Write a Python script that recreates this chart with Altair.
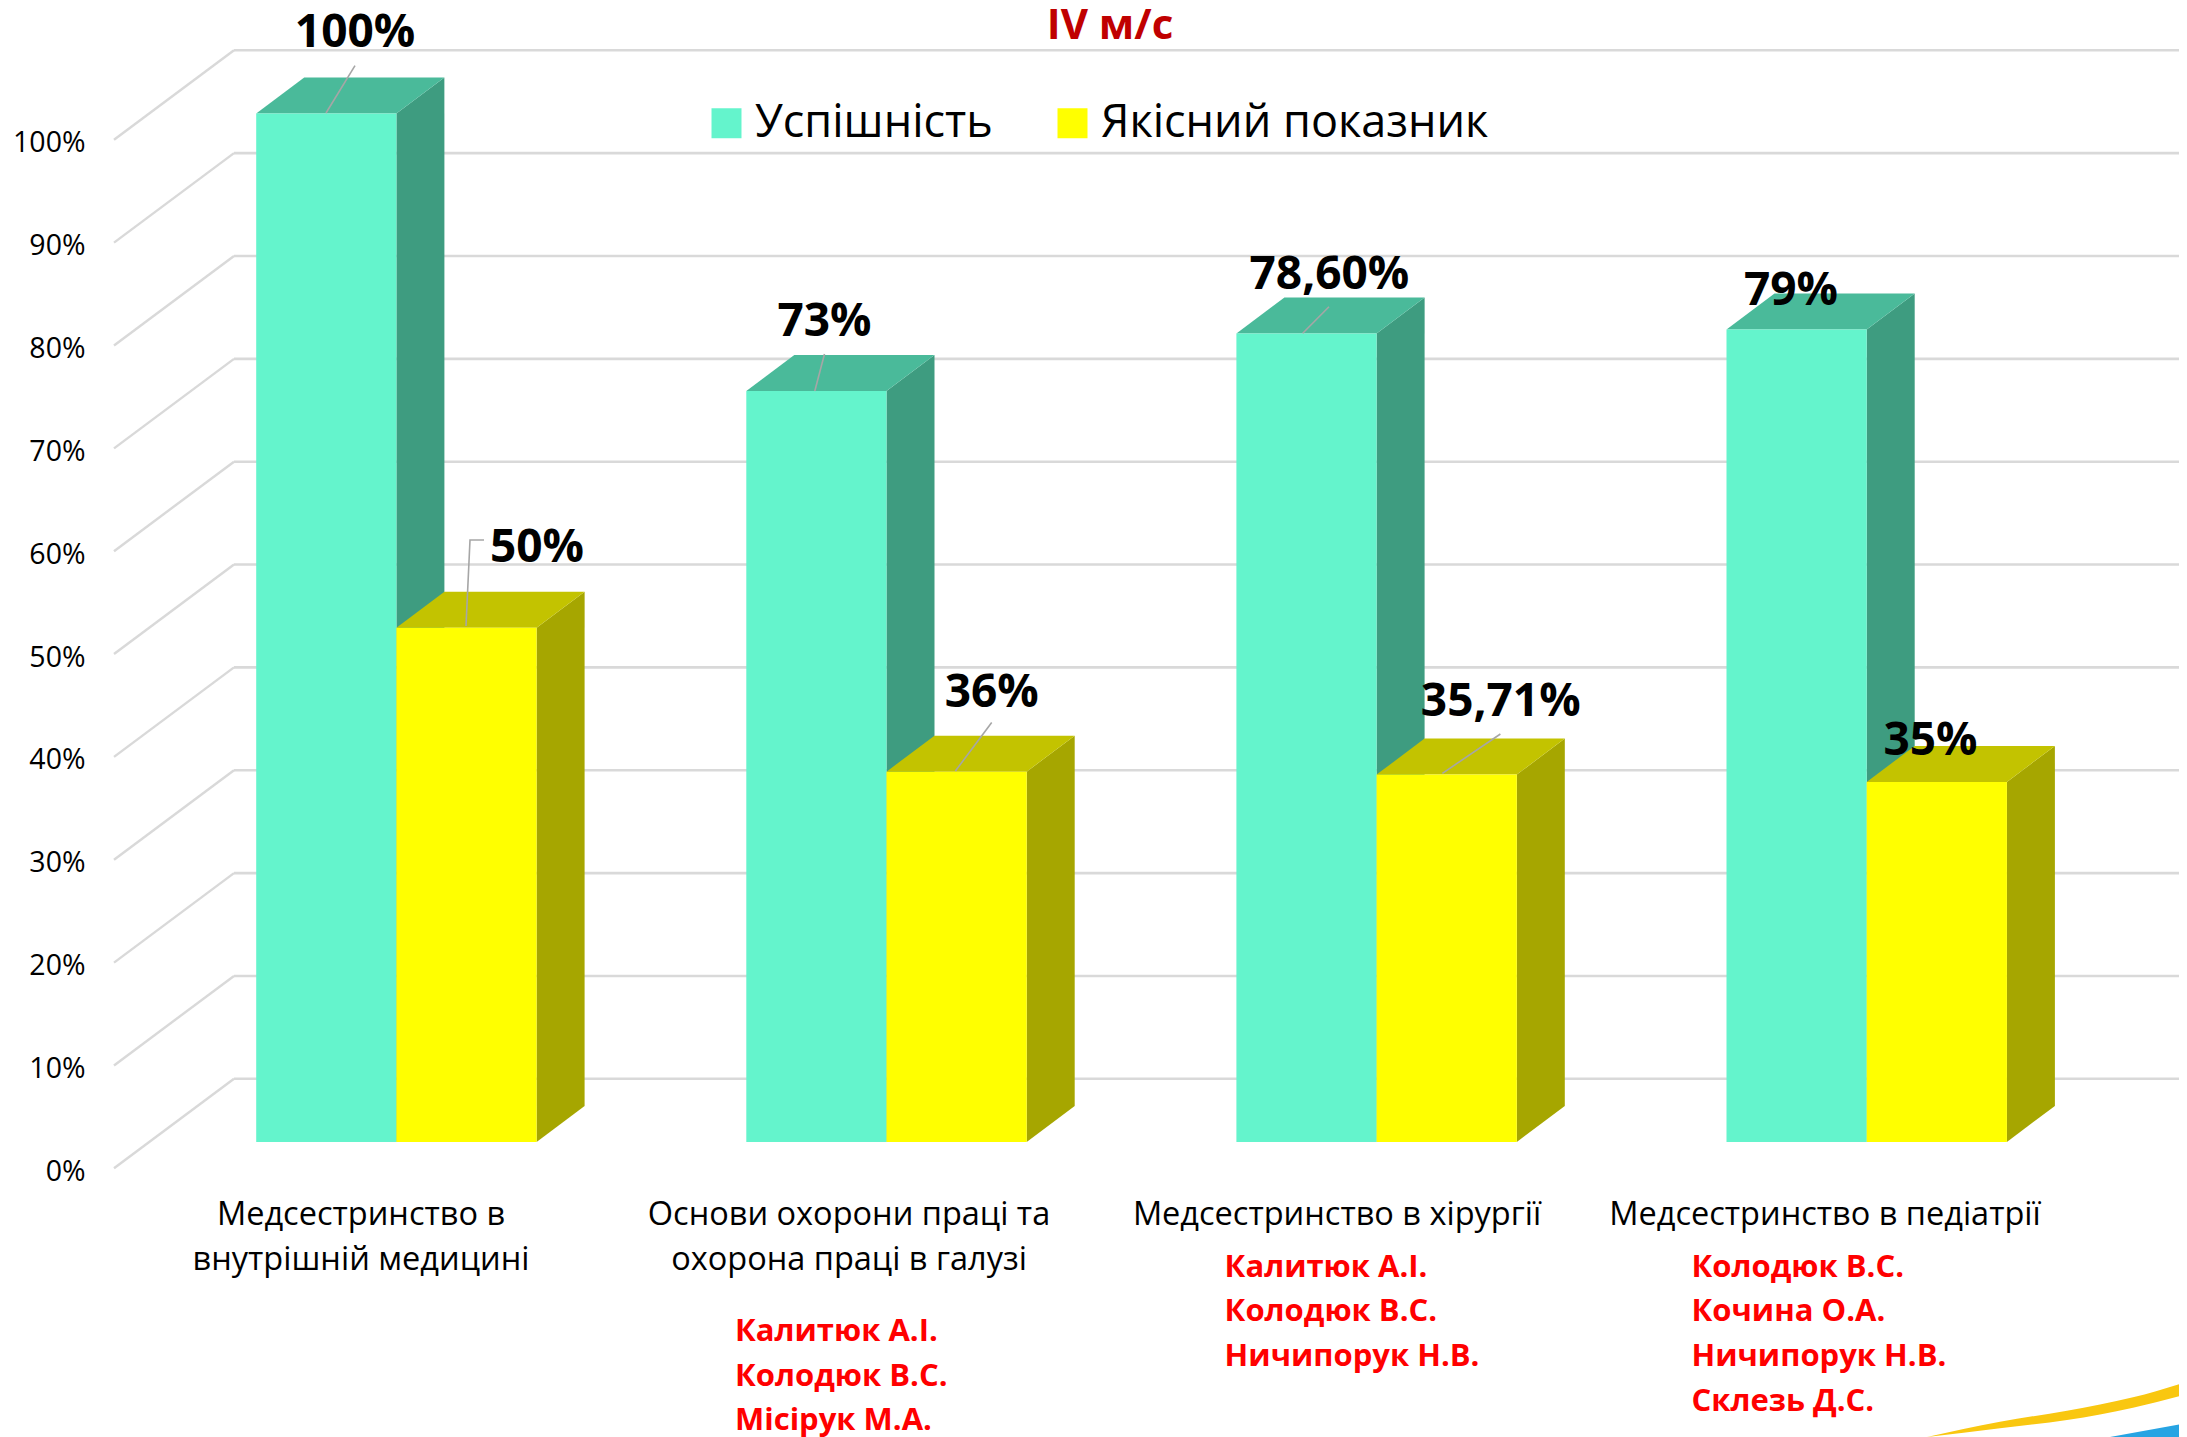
import json
import altair as alt
import pandas as pd

# ---- chart values ----
categories = [
    ["Медсестринство в", "внутрішній медицині"],
    ["Основи охорони праці та", "охорона праці в галузі"],
    ["Медсестринство в хірургії"],
    ["Медсестринство в педіатрії"],
]
series_names = ["Успішність", "Якісний показник"]
success = [100, 73, 78.6, 79]
quality = [50, 36, 35.71, 35]
success_text = ["100%", "73%", "78,60%", "79%"]
quality_text = ["50%", "36%", "35,71%", "35%"]
teachers = [
    [],
    ["Калитюк А.І.", "Колодюк В.С.", "Місірук М.А."],
    ["Калитюк А.І.", "Колодюк В.С.", "Ничипорук Н.В."],
    ["Колодюк В.С.", "Кочина О.А.", "Ничипорук Н.В.", "Склезь Д.С."],
]
y_ticks = list(range(0, 101, 10))
title_text = "IV м/с"

# ---- layout constants (page pixels) ----
FONT = "Open Sans"
PAGE_W, PAGE_H = 2179, 1437    # the svg must stay within the page margin
LEFT = 94                      # page x of plot left
ZERO_Y = 1168.3                # page y of 0 % on the front plane
PX = 10.285                    # pixels per percent point
W = PAGE_W - LEFT
H = ZERO_Y - 8

def xv(px):   # page x -> x scale value
    return px - LEFT
def yv(py):   # page y -> y scale value
    return (ZERO_Y - py) / PX

GRID_DX, GRID_DY = 120, 89.5 / PX
GRID_X0 = 114
BAR_X0, BAR_STEP, BAR_W = 256.2, 490.1, 140.2
BAR_LIFT = 26.4 / PX
DEPTH_X, DEPTH_Y = 48, 36 / PX
LABEL_X0, LABEL_STEP = 360.5, 488

# ---- derived tables ----
grid_rows, wall_rows = [], []
for t in y_ticks:
    wall_rows.append(dict(x=xv(GRID_X0), x2=xv(GRID_X0 + GRID_DX), y=t, y2=t + GRID_DY))
    grid_rows.append(dict(x=xv(GRID_X0 + GRID_DX), x2=W, y=t + GRID_DY))

front, side, top = [], [], []
for i in range(4):
    for s, vals in enumerate([success, quality]):
        v = vals[i] + BAR_LIFT
        x0 = BAR_X0 + i * BAR_STEP + s * BAR_W
        x1 = x0 + BAR_W
        key = f"{i}-{s}"
        front.append(dict(series=series_names[s], x=xv(x0), x2=xv(x1), y=v, y2=BAR_LIFT))
        side += [
            dict(key=key, s=s, x=xv(x1), y=v, y2=BAR_LIFT),
            dict(key=key, s=s, x=xv(x1 + DEPTH_X), y=v + DEPTH_Y, y2=BAR_LIFT + DEPTH_Y),
        ]
        top += [
            dict(key=key, s=s, x=xv(x0), y=v, y2=v),
            dict(key=key, s=s, x=xv(x0 + DEPTH_X), y=v + DEPTH_Y, y2=v),
            dict(key=key, s=s, x=xv(x1), y=v + DEPTH_Y, y2=v),
            dict(key=key, s=s, x=xv(x1 + DEPTH_X), y=v + DEPTH_Y, y2=v + DEPTH_Y),
        ]
side, top = pd.DataFrame(side), pd.DataFrame(top)

# data label anchor points (page pixels: centre x, baseline y)
label_anchor_x = [355, 824.5, 1329.4, 1791, 537, 991.7, 1500.7, 1930.4]
label_anchor_y = [47.3, 336, 288.7, 305, 562, 707, 716, 755]
label_rows = [
    dict(t=t, x=xv(ax), y=yv(ay))
    for t, ax, ay in zip(success_text + quality_text, label_anchor_x, label_anchor_y)
]

# leader lines (page pixels)
leaders = [
    [(326, 113), (355, 65.7)],
    [(466, 626), (470, 540), (484, 540)],
    [(814.8, 391), (824.5, 354)],
    [(955.4, 771), (991.7, 722.5)],
    [(1302.7, 333.3), (1329, 306.7)],
    [(1442.4, 773.3), (1500.4, 734)],
]
leader_rows = [
    dict(k=k, o=o, x=xv(px), y=yv(py))
    for k, pts in enumerate(leaders) for o, (px, py) in enumerate(pts)
]

name_x = [None, 735, 1224.6, 1691.5]
name_y0 = [None, 1341, 1276.7, 1276.7]
name_rows = [
    dict(t=n, x=xv(name_x[i]), y=yv(name_y0[i] + 44.6 * j))
    for i, names in enumerate(teachers) for j, n in enumerate(names)
]

swoosh_y = [(1927, 1437, 1437), (2000, 1421.7, 1428.3), (2067, 1410.7, 1420),
            (2133, 1397.3, 1407.7), (2187, 1381.7, 1394)]
swoosh_b = [(2110, 1437, 1437), (2187, 1423, 1437)]

# ---- scales and axes ----
tick_values = [xv(LABEL_X0 + i * LABEL_STEP) for i in range(4)]
cat_literal = json.dumps(categories, ensure_ascii=False)
label_expr = f"{cat_literal}[round((datum.value - {tick_values[0]}) / {LABEL_STEP})]"

x_scale = alt.Scale(domain=[0, W], nice=False, zero=False)
y_scale = alt.Scale(domain=[0, H / PX], nice=False, zero=False)
x_axis = alt.Axis(
    title=None, values=tick_values, labelExpr=label_expr, domain=False, ticks=False, grid=False,
    labelFont=FONT, labelFontSize=32.5, labelColor="#000000", labelLimit=700,
    labelPadding=56, labelOverlap=False, labelBound=False, labelFlush=False,
    labelAlign="center", labelBaseline="alphabetic", labelLineHeight=45.5,
)
y_axis = alt.Axis(
    title=None, values=y_ticks, labelExpr="datum.value + '%'", domain=False, ticks=False, grid=False,
    labelFont=FONT, labelFontSize=28.5, labelColor="#000000", labelPadding=9, labelOffset=3,
    labelOverlap=False, labelBound=False, labelFlush=False, labelLimit=200,
)
X = alt.X("x:Q", scale=x_scale, axis=x_axis)
Y = alt.Y("y:Q", scale=y_scale, axis=y_axis)
X2 = alt.X2("x2:Q")
Y2 = alt.Y2("y2:Q")

GRID = "#D9D9D9"
SIDE = ["#3E9C80", "#A6A600"]
TOP = ["#4ABA9A", "#C3C300"]
FRONT = ["#64F4CC", "#FFFF00"]

swoosh_layers = [
    alt.Chart(pd.DataFrame([dict(x=xv(a), y=yv(b), y2=yv(c)) for a, b, c in pts]))
    .mark_area(fill=col, interpolate="monotone")
    .encode(x=X, y=Y, y2=Y2)
    for pts, col in [(swoosh_y, "#F9C710"), (swoosh_b, "#27A4E3")]
]

wall = (
    alt.Chart(pd.DataFrame(wall_rows))
    .mark_rule(color=GRID, strokeWidth=2.4)
    .encode(x=X, x2=X2, y=Y, y2=Y2)
)
grid = (
    alt.Chart(pd.DataFrame(grid_rows))
    .mark_rule(color=GRID, strokeWidth=2.6)
    .encode(x=X, x2=X2, y=Y)
)

def faces(s):
    return [
        alt.Chart(side[side.s == s]).mark_area(fill=SIDE[s]).encode(x=X, y=Y, y2=Y2, detail="key:N"),
        alt.Chart(top[top.s == s]).mark_area(fill=TOP[s]).encode(x=X, y=Y, y2=Y2, detail="key:N"),
    ]

fronts = (
    alt.Chart(pd.DataFrame(front))
    .mark_rect()
    .encode(
        x=X, x2=X2, y=Y, y2=Y2,
        color=alt.Color(
            "series:N",
            scale=alt.Scale(domain=series_names, range=FRONT),
            legend=alt.Legend(
                orient="none", legendX=xv(704), legendY=92.5, direction="horizontal", title=None,
                symbolType="square", symbolSize=900, symbolStrokeWidth=0, symbolOpacity=1,
                labelFont=FONT, labelFontSize=45, labelColor="#000000", labelLimit=600,
                columnPadding=57, labelOffset=6, padding=0, rowPadding=0,
            ),
        ),
    )
)

leader_lines = (
    alt.Chart(pd.DataFrame(leader_rows))
    .mark_line(color="#A6A6A6", strokeWidth=1.6)
    .encode(x=X, y=Y, detail="k:N", order="o:Q")
)
value_labels = (
    alt.Chart(pd.DataFrame(label_rows))
    .mark_text(font=FONT, fontSize=46, fontWeight="bold", color="#000000", align="center", baseline="alphabetic")
    .encode(x=X, y=Y, text="t:N")
)
name_labels = (
    alt.Chart(pd.DataFrame(name_rows))
    .mark_text(font=FONT, fontSize=31, fontWeight="bold", color="#FF0000", align="left", baseline="alphabetic")
    .encode(x=X, y=Y, text="t:N")
)
title_mark = (
    alt.Chart(pd.DataFrame([dict(x=xv(1110), y=yv(39), t=title_text)]))
    .mark_text(font=FONT, fontSize=42, fontWeight="bold", color="#C00000", align="center", baseline="alphabetic")
    .encode(x=X, y=Y, text="t:N")
)

chart = (
    alt.layer(
        *swoosh_layers, wall, grid, *faces(0), *faces(1), fronts,
        leader_lines, value_labels, name_labels, title_mark,
    )
    .properties(
        width=W, height=H,
        autosize=alt.AutoSizeParams(type="none"),
        padding={"left": LEFT - 8, "top": 0, "right": 0, "bottom": PAGE_H - 8 - H},
        background="#FFFFFF",
    )
    .configure_view(stroke=None)
)

chart.save("out.html", embed_options={"renderer": "svg", "actions": False})
